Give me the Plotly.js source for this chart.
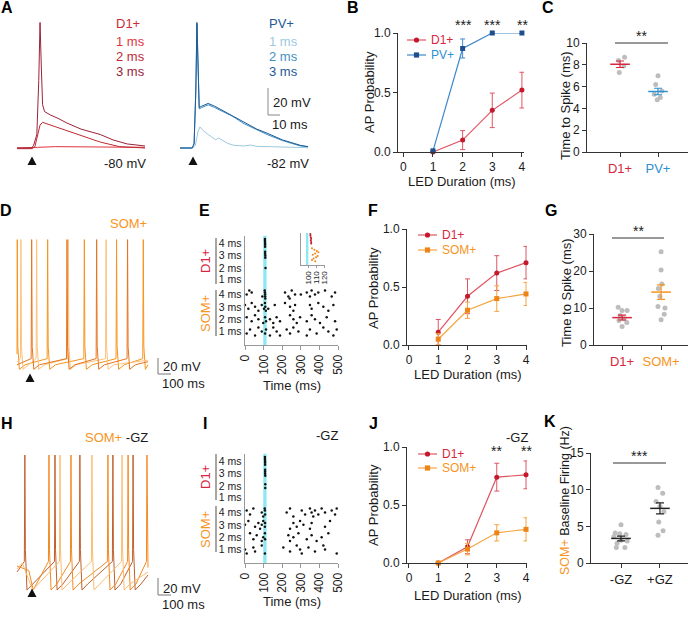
<!DOCTYPE html>
<html>
<head>
<meta charset="utf-8">
<script src="https://cdn.plot.ly/plotly-3.0.1.min.js"></script>
<style>
  html, body { margin: 0; padding: 0; background: #fff; }
  #fig { width: 688px; height: 618px; }
</style>
</head>
<body>
<div id="fig"></div>
<script>
// ---------- colours
const RED = '#d7263d', RED_LINE = '#e05563', RED_MK = '#c4182c';
const BLUE = '#2e8fd1', BLUE_LINE = '#3f88cc', BLUE_MK = '#1d4f8f';
const ORANGE = '#f7941d', OR_LINE = '#f7a440', OR_MK = '#ee8418';
const GREY_PT = '#bdbdbd';

// ---------- A: example traces (time in ms, Vm in mV)
const d1_1ms_t = [0, 14, 16, 30, 60, 80, 100];
const d1_1ms_v = [-80, -80, -79.5, -79, -79, -79.3, -79.5];
const d1_2ms_t = [0, 12, 14, 16, 18, 20, 23, 30, 39, 50, 65, 80, 100];
const d1_2ms_v = [-80.5, -80.5, -79, -70, -63, -61, -62, -64, -67, -71, -75.6, -79, -80];
const d1_3ms_t = [0, 11.5, 13, 15.5, 17, 18, 19, 20, 21.5, 26, 32, 39, 50, 65, 75, 86, 100];
const d1_3ms_v = [-80, -80, -78, -70, -30, 13, -20, -48, -53, -55.5, -58, -61.5, -66, -70, -74, -77, -78.5];

const pv_1ms_t = [0, 10, 12, 14, 15.6, 18, 22, 26, 28, 30, 33, 37, 42, 50, 55, 60, 70, 80, 90, 100];
const pv_1ms_v = [-82, -82, -80, -70, -66.4, -69, -72, -75, -76, -74.5, -76.5, -78.5, -80, -80.5, -79.8, -80.8, -81, -81.2, -81.5, -81.8];
const pv_2ms_t = [0, 9.5, 11, 12.4, 13.3, 14.1, 15, 17, 22, 27, 35, 41, 50, 60, 68, 80, 94, 100];
const pv_2ms_v = [-82, -82, -79, -40, 10, -30, -53, -52, -50, -52, -56, -58.5, -64, -68.5, -72, -76.5, -80.5, -81];
const pv_3ms_t = [0, 9.5, 11, 12.3, 13.2, 14, 15, 17, 22, 27, 35, 41, 50, 60, 68, 80, 94, 100];
const pv_3ms_v = [-82, -82, -79, -40, 11, -30, -52, -51, -49, -51, -55, -58, -63, -68, -71, -76, -80, -81];

// ---------- B / F / J: AP probability vs LED duration
const ledDur = [1, 2, 3, 4];
const bD1 = [0.0, 0.10, 0.35, 0.52];
const bD1Err = [0.0, 0.08, 0.145, 0.15];
const bPV = [0.01, 0.87, 1.0, 1.0];
const bPVErr = [0.0, 0.08, 0.0, 0.0];

const fD1 = [0.11, 0.42, 0.62, 0.71];
const fD1Err = [0.11, 0.15, 0.15, 0.14];
const fSOM = [0.05, 0.30, 0.40, 0.44];
const fSOMErr = [0.05, 0.07, 0.11, 0.10];

const jD1 = [0.0, 0.14, 0.74, 0.76];
const jD1Err = [0.0, 0.06, 0.12, 0.12];
const jSOM = [0.0, 0.12, 0.26, 0.29];
const jSOMErr = [0.0, 0.05, 0.07, 0.10];

// ---------- C / G / K: individual cells + mean ± SEM
const cD1 = [8.7, 8.4, 7.9, 7.3];
const cD1x = [1.12, 0.96, 1.1, 0.98];
const cPV = [7.0, 6.2, 5.6, 5.3, 5.0, 4.8];
const cPVx = [2.0, 1.94, 2.1, 1.9, 2.06, 1.98];
const cMean = [8.05, 5.55];
const cSem = [0.3, 0.3];

const gD1 = [10.2, 9.3, 9.3, 8.0, 7.1, 6.6, 6.1, 5.0];
const gD1x = [0.9, 1.0, 1.13, 0.95, 1.05, 0.92, 1.12, 1.0];
const gSOM = [25.2, 20.3, 16.5, 15.3, 13.2, 10.4, 10.0, 8.3, 6.8];
const gSOMx = [2.0, 2.0, 2.02, 1.93, 1.97, 1.92, 2.1, 2.08, 2.0];
const gMean = [7.4, 14.3];
const gSem = [0.65, 1.95];

const kMinus = [5.2, 4.1, 4.0, 3.9, 3.6, 3.1, 3.0, 2.7, 2.1, 2.1];
const kMinusx = [1.0, 0.85, 0.97, 1.13, 0.82, 1.0, 1.16, 0.9, 0.88, 1.1];
const kPlus = [10.3, 9.5, 8.4, 7.7, 7.0, 5.6, 4.4, 3.8];
const kPlusx = [1.95, 2.07, 1.9, 2.0, 2.1, 1.97, 2.08, 1.95];
const kMean = [3.35, 7.45];
const kSem = [0.32, 0.75];

// ---------- D / H: SOM+ sweeps (spike times in ms)
const dSweeps = [
  {spikes: [1, 117, 257, 380, 482], v0: -45, v1: -52, color: '#f7941d'},
  {spikes: [15, 75, 196, 340], v0: -50, v1: -49, color: '#fcc27c'},
  {spikes: [56, 191, 304, 422], v0: -52, v1: -50, color: '#e7741f'}
];
const hSweeps = [
  {spikes: [30, 145, 240, 366, 443], v0: -48, v1: -50, color: '#c0602e', extra: []},
  {spikes: [122, 206, 347, 424, 496], v0: -44, v1: -45, color: '#f28a22', extra: [[45, -47], [62, -60]]},
  {spikes: [164, 286, 401], v0: -46, v1: -48, color: '#fbbd72', extra: [[20, -42], [60, -60]]}
];

// ---------- E / I: rasters, [time ms, sweep]
const eSom4 = [[9,2],[23,0],[36,1],[93,3],[106,0],[107,1],[108,2],[108,3],[109,4],[215,1],[233,3],[240,4],[251,0],[269,2],[300,2],[332,1],[349,3],[358,0],[376,2],[394,1],[430,0],[466,3],[484,1]];
const eSom3 = [[0,1],[18,3],[36,0],[54,2],[72,4],[90,1],[102,3],[107,0],[109,2],[112,4],[125,3],[160,1],[215,0],[242,2],[260,4],[269,1],[349,1],[358,3],[394,0],[421,2],[448,4],[475,1]];
const eSom2 = [[9,1],[36,3],[54,0],[72,2],[98,4],[108,1],[113,3],[134,2],[152,4],[170,1],[188,3],[242,0],[260,2],[278,4],[296,1],[332,3],[358,0],[376,2],[403,4],[439,1],[484,3]];
const eSom1 = [[9,3],[27,1],[54,4],[72,0],[90,2],[108,3],[113,1],[134,4],[152,0],[170,2],[188,4],[224,1],[242,3],[260,0],[287,2],[332,4],[349,1],[385,3],[421,0],[448,2],[475,4],[493,1]];
const eD14 = [[107,0],[107,1],[108,2],[108,3],[108,4]];
const eD13 = [[108,0],[108,1],[109,2],[109,3]];
const eD12 = [[110,2]];
const eD11 = [];

const iSom4 = [[9,1],[27,3],[45,0],[90,2],[98,4],[106,0],[107,1],[108,3],[224,2],[242,0],[260,4],[305,1],[323,3],[349,0],[358,2],[367,4],[376,1],[394,3],[412,0],[430,2],[466,1],[484,3],[493,0]];
const iSom3 = [[0,2],[18,0],[54,3],[72,1],[81,4],[90,2],[98,0],[107,3],[108,1],[242,4],[260,1],[278,3],[296,0],[314,2],[349,4],[358,1],[430,3],[457,0]];
const iSom2 = [[27,0],[45,3],[63,1],[90,4],[98,2],[107,0],[108,3],[233,1],[242,4],[260,2],[287,0],[332,3],[358,1],[385,4],[412,2],[448,0]];
const iSom1 = [[0,2],[9,4],[45,1],[54,3],[90,0],[107,4],[206,1],[242,3],[278,0],[296,2],[305,4],[341,1],[376,3],[421,0],[430,2],[493,4]];
const iD14 = [[107,0],[107,1],[108,2],[108,3],[108,4]];
const iD13 = [[108,0],[108,1],[108,2],[109,3]];
const iD12 = [[109,1],[109,3]];
const iD11 = [];

const rowLabels = ['4 ms', '3 ms', '2 ms', '1 ms', '4 ms', '3 ms', '2 ms', '1 ms'];
const rowPos = [8.3, 7.25, 6.25, 5.3, 4.1, 3.1, 2.1, 1.1];

// inset of E (zoom around light onset)
const insD1_t = [103, 103, 103.5, 104, 103.5, 104, 104];
const insD1_y = [9.7, 9.2, 8.7, 8.2, 7.7, 7.2, 6.7];
const insSom_t = [105, 108, 111, 113, 109, 106, 112, 110, 107, 105, 109];
const insSom_y = [5.2, 4.8, 4.4, 4.0, 3.6, 3.2, 2.8, 2.4, 2.0, 1.6, 1.2];

// ---------- geometry helpers (page is 688 x 618 px)
const W = 688, H = 618;
const fx = p => p / W;
const fy = p => 1 - p / H;

const layout = {
  width: W, height: H, margin: {l: 0, r: 0, t: 0, b: 0},
  paper_bgcolor: '#fff', plot_bgcolor: 'rgba(0,0,0,0)',
  font: {family: 'Liberation Sans, Arial, sans-serif', size: 12, color: '#1a1a1a'},
  showlegend: false, shapes: [], annotations: []
};
const traces = [];

function axisBase() {
  return {
    showgrid: false, zeroline: false, showline: true, linecolor: '#333', linewidth: 1,
    ticks: 'outside', ticklen: 4, tickcolor: '#333', tickwidth: 1,
    tickfont: {size: 12, color: '#1a1a1a'}, fixedrange: true
  };
}
function setAxes(n, xd, yd, xo, yo) {
  const id = n === 1 ? '' : String(n);
  layout['xaxis' + id] = Object.assign(axisBase(), {domain: [fx(xd[0]), fx(xd[1])], anchor: 'y' + id}, xo);
  layout['yaxis' + id] = Object.assign(axisBase(), {domain: [fy(yd[1]), fy(yd[0])], anchor: 'x' + id}, yo);
  return {x: 'x' + id, y: 'y' + id};
}
function note(text, x, y, o) {
  const a = {text: text, x: fx(x), y: fy(y), xref: 'paper', yref: 'paper', showarrow: false,
    font: {size: 13, color: '#1a1a1a'}, xanchor: 'center', yanchor: 'middle'};
  layout.annotations.push(Object.assign(a, o || {}));
}
function line(x0, y0, x1, y1, color, width) {
  layout.shapes.push({type: 'line', xref: 'paper', yref: 'paper', x0: fx(x0), y0: fy(y0), x1: fx(x1), y1: fy(y1),
    line: {color: color || '#333', width: width || 1}});
}
function triangle(cx, cy) {
  const p = `M${fx(cx - 4.5)},${fy(cy + 4)} L${fx(cx + 4.5)},${fy(cy + 4)} L${fx(cx)},${fy(cy - 4.5)} Z`;
  layout.shapes.push({type: 'path', xref: 'paper', yref: 'paper', path: p, fillcolor: '#111', line: {width: 0}});
}
function legendItem(x0, y, lineCol, markCol, square, label, textCol) {
  line(x0, y, x0 + 19, y, lineCol, 1.2);
  const c = x0 + 9.5, r = 2.6;
  layout.shapes.push({type: square ? 'rect' : 'circle', xref: 'paper', yref: 'paper',
    x0: fx(c - r), x1: fx(c + r), y0: fy(y + r), y1: fy(y - r), fillcolor: markCol, line: {width: 0}});
  note(label, x0 + 22, y, {xanchor: 'left', font: {size: 12, color: textCol}});
}
function panelLetter(t, x, y) {
  note('<b>' + t + '</b>', x, y, {font: {size: 16, color: '#000'}});
}

// ---------- A
const aL = setAxes(1, [15, 150], [15, 160], {visible: false, range: [-1.5625, 103.9]}, {visible: false, range: [-88.89, 18.52]});
const aR = setAxes(2, [178, 312], [15, 160], {visible: false, range: [-1.5625, 103.1]}, {visible: false, range: [-90.89, 16.52]});
[[d1_1ms_t, d1_1ms_v, '#e2343c'], [d1_2ms_t, d1_2ms_v, '#bf2a33'], [d1_3ms_t, d1_3ms_v, '#9b2338']].forEach(s => {
  traces.push({x: s[0], y: s[1], type: 'scatter', mode: 'lines', xaxis: aL.x, yaxis: aL.y, line: {color: s[2], width: 1}, cliponaxis: false});
});
[[pv_1ms_t, pv_1ms_v, '#9cc8e2'], [pv_2ms_t, pv_2ms_v, '#3f8fc4'], [pv_3ms_t, pv_3ms_v, '#1d5a96']].forEach(s => {
  traces.push({x: s[0], y: s[1], type: 'scatter', mode: 'lines', xaxis: aR.x, yaxis: aR.y, line: {color: s[2], width: 1}, cliponaxis: false});
});
panelLetter('A', 7, 8);
note('D1+', 114, 24, {xanchor: 'left', font: {size: 13, color: '#cc2a36'}});
note('1 ms', 114, 41, {xanchor: 'left', font: {size: 13, color: '#e2343c'}});
note('2 ms', 114, 56, {xanchor: 'left', font: {size: 13, color: '#bf2a33'}});
note('3 ms', 114, 71, {xanchor: 'left', font: {size: 13, color: '#9b2338'}});
note('PV+', 267, 24, {xanchor: 'left', font: {size: 13, color: '#1d5a96'}});
note('1 ms', 267, 41, {xanchor: 'left', font: {size: 13, color: '#9cc8e2'}});
note('2 ms', 267, 56, {xanchor: 'left', font: {size: 13, color: '#3f8fc4'}});
note('3 ms', 267, 71, {xanchor: 'left', font: {size: 13, color: '#1d5a96'}});
note('-80 mV', 125, 163);
note('-82 mV', 288, 163);
triangle(32, 161);
triangle(193, 161);
line(268, 88, 268, 115, '#888');
line(268, 115, 280, 115, '#888');
note('20 mV', 271, 102, {xanchor: 'left'});
note('10 ms', 270, 125, {xanchor: 'left'});

// ---------- B
const bAx = setAxes(3, [398, 524], [33, 152],
  {range: [-0.18, 4.07], tickvals: [0, 1, 2, 3, 4]},
  {range: [0, 1], tickvals: [0, 0.5, 1], ticktext: ['0.0', '0.5', '1.0']});
function probTrace(ax, y, err, lineCol, markCol, symbol) {
  return {x: ledDur, y: y, type: 'scatter', mode: 'lines+markers', xaxis: ax.x, yaxis: ax.y,
    line: {color: lineCol, width: 1.2}, marker: {color: markCol, size: 5, symbol: symbol},
    error_y: {type: 'data', array: err, color: lineCol, thickness: 1, width: 2.5}, cliponaxis: false};
}
traces.push(probTrace(bAx, bD1, bD1Err, RED_LINE, RED_MK, 'circle'));
traces.push(probTrace(bAx, bPV, bPVErr, BLUE_LINE, BLUE_MK, 'square'));
panelLetter('B', 353, 8);
legendItem(407, 40, RED_LINE, RED_MK, false, 'D1+', RED);
legendItem(407, 55, BLUE_LINE, BLUE_MK, true, 'PV+', BLUE);
note('AP Probability', 369, 92, {textangle: -90});
note('LED Duration (ms)', 462, 181);
note('***', 463, 25, {font: {size: 14, color: '#1a1a1a'}});
note('***', 492, 25, {font: {size: 14, color: '#1a1a1a'}});
note('**', 522, 25, {font: {size: 14, color: '#1a1a1a'}});

// ---------- C / G / K helper
function dotPanel(ax, v1, x1, v2, x2, mean, sem, c1, c2) {
  traces.push({x: x1.concat(x2), y: v1.concat(v2), type: 'scatter', mode: 'markers', xaxis: ax.x, yaxis: ax.y,
    marker: {color: GREY_PT, size: 5}, cliponaxis: false});
  [[1, c1], [2, c2]].forEach((g, i) => {
    traces.push({x: [g[0]], y: [mean[i]], type: 'scatter', mode: 'markers', xaxis: ax.x, yaxis: ax.y,
      marker: {symbol: 'line-ew', size: 14, color: g[1], line: {color: g[1], width: 1.5}},
      error_y: {type: 'data', array: [sem[i]], color: g[1], thickness: 1.2, width: 4}, cliponaxis: false});
  });
}
const catTick = (a, b) => [`<span style="color:${a[1]}">${a[0]}</span>`, `<span style="color:${b[1]}">${b[0]}</span>`];

const cAx = setAxes(4, [587, 688], [43, 152],
  {range: [0.13, 2.79], tickvals: [1, 2], ticktext: catTick(['D1+', RED], ['PV+', BLUE]), tickfont: {size: 13}},
  {range: [0, 10], tickvals: [0, 2, 4, 6, 8, 10]});
dotPanel(cAx, cD1, cD1x, cPV, cPVx, cMean, cSem, RED, BLUE);
panelLetter('C', 548, 8);
note('Time to Spike (ms)', 566, 106, {textangle: -90});
line(615, 43, 668, 43, '#333');
note('**', 641, 36, {font: {size: 14, color: '#1a1a1a'}});

// ---------- D
const dAx = setAxes(5, [15, 150], [235, 380], {visible: false, range: [-7.63, 507.6]}, {visible: false, range: [-62, 33]});
function spikeTrain(sw, lv) {
  let pts = [[0, sw.v0]];
  sw.spikes.forEach(ts => {
    pts.push([ts - 2, lv.thr], [ts, lv.peak], [ts + 2, lv.thr + 8], [ts + 8, lv.trough], [ts + 30, lv.trough + lv.rec]);
  });
  (sw.extra || []).forEach(p => pts.push(p));
  pts = pts.filter(p => p[0] >= 0 && p[0] < 500);
  pts.push([500, sw.v1]);
  pts.sort((a, b) => a[0] - b[0]);
  return {x: pts.map(p => p[0]), y: pts.map(p => p[1])};
}
dSweeps.forEach(sw => {
  const tr = spikeTrain(sw, {thr: -48, peak: 30, trough: -55, rec: 3});
  traces.push({x: tr.x, y: tr.y, type: 'scatter', mode: 'lines', xaxis: dAx.x, yaxis: dAx.y, line: {color: sw.color, width: 1}, cliponaxis: false});
});
panelLetter('D', 6, 210);
note('SOM+', 128, 223, {font: {size: 13, color: ORANGE}});
triangle(30, 378);
line(158, 358, 158, 374, '#777');
line(158, 374, 171, 374, '#777');
note('20 mV', 161, 366, {xanchor: 'left'});
note('100 ms', 160, 383, {xanchor: 'left'});

// ---------- E / I rasters
function rasterTrace(ax, rows, ys, color) {
  const x = [], y = [];
  rows.forEach((r, i) => r.forEach(p => { x.push(p[0]); y.push(ys[i] + (2 - p[1]) * 0.16); }));
  return {x: x, y: y, type: 'scatter', mode: 'markers', xaxis: ax.x, yaxis: ax.y,
    marker: {color: color, size: 2.5}, cliponaxis: false};
}
function rasterPanel(n, top, bottom, d1Rows, somRows, letterY, shift) {
  const ax = setAxes(n, [245, 338.4], [top, bottom],
    {range: [0, 502], tickvals: [0, 100, 200, 300, 400, 500], tickangle: -90, linecolor: '#999', tickcolor: '#999'},
    {range: [0, 8.9], tickvals: rowPos, ticktext: rowLabels, ticks: '', linecolor: '#999', linewidth: 1.5,
     tickfont: {size: 10.5, color: '#1a1a1a'}});
  layout.shapes.push({type: 'rect', xref: ax.x, yref: ax.y, x0: 98, x1: 116, y0: 0, y1: 8.9,
    fillcolor: '#8ee8f3', line: {width: 0}, layer: 'below'});
  traces.push(rasterTrace(ax, d1Rows, rowPos.slice(0, 4), '#111'));
  traces.push(rasterTrace(ax, somRows, rowPos.slice(4), '#111'));
  panelLetter(n === 6 ? 'E' : 'I', 205, letterY);
  line(216, 238 + shift, 216, 284 + shift, '#888', 1.5);
  line(216, 290 + shift, 216, 336 + shift, '#888', 1.5);
  note('D1+', 205, 261 + shift, {textangle: -90, font: {size: 13, color: RED}});
  note('SOM+', 205, 313 + shift, {textangle: -90, font: {size: 13, color: ORANGE}});
  note('Time (ms)', 292, 385 + shift);
  return ax;
}
rasterPanel(6, 235.5, 345, [eD14, eD13, eD12, eD11], [eSom4, eSom3, eSom2, eSom1], 210, 0);

// inset of E
const insAx = setAxes(7, [301, 325], [233, 265],
  {range: [91.25, 121.25], tickvals: [100, 110, 120], tickangle: -90, tickfont: {size: 8}, ticklen: 2, linecolor: '#999', tickcolor: '#999'},
  {range: [0, 10], showticklabels: false, ticks: '', linecolor: '#999'});
layout.shapes.push({type: 'rect', xref: insAx.x, yref: insAx.y, x0: 97.5, x1: 100.5, y0: 0, y1: 10,
  fillcolor: '#8ee8f3', line: {width: 0}, layer: 'below'});
traces.push({x: insD1_t, y: insD1_y, type: 'scatter', mode: 'markers', xaxis: insAx.x, yaxis: insAx.y,
  marker: {color: '#c4182c', size: 2}, cliponaxis: false});
traces.push({x: insSom_t, y: insSom_y, type: 'scatter', mode: 'markers', xaxis: insAx.x, yaxis: insAx.y,
  marker: {color: OR_MK, size: 2}, cliponaxis: false});

// ---------- F
const fAx = setAxes(8, [407, 527], [229, 345],
  {range: [-0.068, 4.034], tickvals: [0, 1, 2, 3, 4]},
  {range: [0, 1], tickvals: [0, 0.5, 1], ticktext: ['0.0', '0.5', '1.0']});
traces.push(probTrace(fAx, fD1, fD1Err, RED_LINE, RED_MK, 'circle'));
traces.push(probTrace(fAx, fSOM, fSOMErr, OR_LINE, OR_MK, 'square'));
panelLetter('F', 373, 210);
legendItem(418, 235, RED_LINE, RED_MK, false, 'D1+', RED);
legendItem(418, 250, OR_LINE, OR_MK, true, 'SOM+', ORANGE);
note('AP Probability', 373, 288, {textangle: -90});
note('LED Duration (ms)', 468, 374);

// ---------- G
const gAx = setAxes(9, [594, 688], [234, 345],
  {range: [0.28, 2.69], tickvals: [1, 2], ticktext: catTick(['D1+', RED], ['SOM+', ORANGE]), tickfont: {size: 13}},
  {range: [0, 30], tickvals: [0, 10, 20, 30]});
dotPanel(gAx, gD1, gD1x, gSOM, gSOMx, gMean, gSem, RED, ORANGE);
panelLetter('G', 551, 210);
note('Time to Spike (ms)', 566, 293, {textangle: -90});
line(612, 238, 664, 238, '#333');
note('**', 638, 231, {font: {size: 14, color: '#1a1a1a'}});

// ---------- H
const hAx = setAxes(10, [15, 150], [450, 598], {visible: false, range: [-7.63, 507.6]}, {visible: false, range: [-65.33, 33.33]});
hSweeps.forEach(sw => {
  const tr = spikeTrain(sw, {thr: -41, peak: 30, trough: -60, rec: 4});
  traces.push({x: tr.x, y: tr.y, type: 'scatter', mode: 'lines', xaxis: hAx.x, yaxis: hAx.y, line: {color: sw.color, width: 1}, cliponaxis: false});
});
panelLetter('H', 7, 423);
note(`<span style="color:${ORANGE}">SOM+</span> -GZ`, 116, 437);
triangle(32, 593);
line(158, 578, 158, 595, '#777');
line(158, 595, 171, 595, '#777');
note('20 mV', 161, 588, {xanchor: 'left'});
note('100 ms', 160, 604, {xanchor: 'left'});

// ---------- I
rasterPanel(11, 453.5, 563, [iD14, iD13, iD12, iD11], [iSom4, iSom3, iSom2, iSom1], 423, 216);
note('-GZ', 327, 436);

// ---------- J
const jAx = setAxes(12, [407, 527], [447, 563],
  {range: [-0.068, 4.034], tickvals: [0, 1, 2, 3, 4]},
  {range: [0, 1], tickvals: [0, 0.5, 1], ticktext: ['0.0', '0.5', '1.0']});
traces.push(probTrace(jAx, jD1, jD1Err, RED_LINE, RED_MK, 'circle'));
traces.push(probTrace(jAx, jSOM, jSOMErr, OR_LINE, OR_MK, 'square'));
panelLetter('J', 373, 423);
legendItem(418, 454, RED_LINE, RED_MK, false, 'D1+', RED);
legendItem(418, 468, OR_LINE, OR_MK, true, 'SOM+', ORANGE);
note('AP Probability', 373, 505, {textangle: -90});
note('LED Duration (ms)', 468, 595);
note('-GZ', 517, 437);
note('**', 497, 451, {font: {size: 14, color: '#1a1a1a'}});
note('**', 526, 451, {font: {size: 14, color: '#1a1a1a'}});

// ---------- K
const kAx = setAxes(13, [591, 688], [453, 563],
  {range: [0.23, 2.72], tickvals: [1, 2], ticktext: ['-GZ', '+GZ'], tickfont: {size: 13}},
  {range: [0, 15], tickvals: [0, 5, 10, 15]});
dotPanel(kAx, kMinus, kMinusx, kPlus, kPlusx, kMean, kSem, '#222', '#222');
panelLetter('K', 550, 421);
note(`<span style="color:${ORANGE}">SOM+</span> Baseline Firing (Hz)`, 565, 501, {textangle: -90, font: {size: 12.5, color: '#1a1a1a'}});
line(613, 463, 666, 463, '#333');
note('***', 639, 456, {font: {size: 14, color: '#1a1a1a'}});

traces.forEach(t => { t.showlegend = false; t.hoverinfo = 'skip'; });
Plotly.newPlot('fig', traces, layout, {staticPlot: true});
</script>
</body>
</html>
